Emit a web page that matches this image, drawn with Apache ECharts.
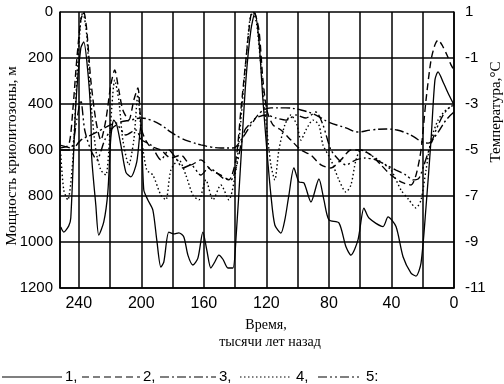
<!DOCTYPE html>
<html><head><meta charset="utf-8">
<script src="https://cdn.jsdelivr.net/npm/echarts@6/dist/echarts.min.js"></script>
<style>html,body{margin:0;padding:0;background:#fff}#c{width:504px;height:384px}</style>
</head><body><div id="c"></div>
<script>
// Time axis (thousand years ago), depth axis (m), temperature axis (°C)
const timeTicks = [0, 40, 80, 120, 160, 200, 240];
const depthTicks = [0, 200, 400, 600, 800, 1000, 1200];
const tempTicks = [1, -1, -3, -5, -7, -9, -11];
const seriesNames = ['1,', '2,', '3,', '4,', '5:'];

// Series 1 (solid)
const s1 = [[251.5,935],[249.6,957],[246.4,930],[245.1,896],[241.9,404],[238.7,157],[236.8,130],[234.2,260],[232.3,448],[231.7,635],[229.1,839],[227.2,970],[224,913],[221.4,783],[219.5,548],[217.6,470],[215.7,491],[213.1,578],[209.9,696],[206.7,717],[202.9,652],[200.3,491],[198.4,774],[195.8,817],[192.6,861],[190.1,991],[187.5,1109],[185.6,1087],[182.4,957],[179.2,965],[176,960],[172.8,978],[170.2,1057],[167,1100],[163.8,1070],[160.6,957],[158.1,1035],[155.5,1113],[153,1087],[150.4,1057],[147.8,1075],[144.6,1113],[141.4,1113],[139.5,991],[136.3,643],[133.1,296],[129.9,78],[127.4,4],[124.8,122],[122.2,383],[119.7,600],[117.1,796],[114.6,926],[110.7,961],[108.2,904],[105.6,796],[102.4,678],[99.2,739],[96,743],[91.5,826],[86.4,726],[83.2,817],[80,904],[73.6,917],[69.1,1021],[65.9,1057],[61.4,991],[57.6,853],[54.4,896],[45.4,933],[42.2,891],[37.1,933],[32.6,1064],[27.5,1135],[24.3,1148],[21.1,1092],[17.9,848],[14.7,557],[12.2,296],[10.2,260],[7,304],[3.2,361],[0,404]];

// Series 2 (dashed)
const s2 = [[251.5,591],[246.4,578],[243.8,426],[241.3,209],[238.7,35],[236.8,0],[234.9,78],[232.3,296],[229.1,470],[225.9,557],[222.7,470],[219.5,317],[217,252],[214.4,339],[211.8,426],[208,470],[204.8,383],[202.2,330],[199.7,513],[195.2,578],[187.5,600],[181.1,635],[174.7,622],[168.3,665],[161.9,643],[155.5,687],[149.1,709],[144,730],[139.5,643],[136.3,426],[133.1,209],[129.9,13],[128,0],[124.8,78],[122.2,296],[119.7,426],[115.8,491],[110.7,513],[104.3,557],[97.9,600],[91.5,622],[85.1,665],[78.7,678],[72.3,643],[65.9,600],[59.5,600],[53.1,622],[46.7,665],[40.3,709],[33.9,739],[27.5,752],[24.3,709],[21.1,600],[17.9,383],[14.7,209],[12.2,143],[10.2,122],[7.7,143],[4.5,187],[1.9,230],[0,252]];

// Series 3 (dash-dot)
const s3 = [[251.5,600],[245.1,600],[238.7,557],[232.3,535],[225.9,513],[219.5,491],[213.1,478],[206.7,470],[200.3,461],[193.9,470],[187.5,491],[181.1,522],[174.7,548],[168.3,565],[161.9,578],[155.5,587],[149.1,591],[141.4,591],[136.3,557],[129.9,491],[123.5,435],[117.1,417],[107.5,417],[97.9,426],[88.3,448],[80.4,478],[69.1,504],[61.4,522],[53.1,513],[43.5,509],[36.5,513],[30.7,526],[25.6,543],[20.5,565],[16.6,570],[11.5,535],[5.1,470],[0,435]];

// Series 4 (dotted)
const s4 = [[251.5,620],[249.6,774],[247,817],[243.8,643],[241.3,296],[238.7,35],[237.4,0],[234.9,100],[232.3,383],[229.1,600],[225.9,687],[222.7,709],[219.5,470],[217,296],[214.4,383],[211.8,557],[208,665],[204.8,557],[202.2,361],[199.7,557],[196.5,687],[192.6,709],[187.5,796],[184.3,817],[181.1,687],[176,643],[171.5,709],[167,796],[163.2,817],[158.7,730],[154.2,817],[149.1,752],[144,817],[139.5,687],[136.3,470],[133.1,209],[130.6,35],[128.6,0],[126.1,57],[122.2,339],[119.7,513],[117.1,665],[114.6,730],[112,600],[108.2,491],[104.3,448],[100.5,491],[97.9,557],[94.7,513],[90.2,470],[86.4,491],[83.8,578],[78.7,643],[73.6,730],[69.1,783],[65.9,752],[62.7,643],[59.5,600],[53.1,622],[46.7,652],[40.3,687],[33.9,774],[28.8,817],[24.3,852],[21.1,817],[17.9,687],[14.7,557],[10.2,470],[5.1,426],[0,404]];

// Series 5 (dash-dot-dot)
const s5 = [[251.5,580],[245.1,591],[241.3,470],[238.7,383],[236.2,513],[232.3,600],[228.5,643],[223.4,557],[219.5,513],[215.7,491],[209.9,535],[203.5,513],[199.7,557],[193.9,578],[187.5,643],[182.4,600],[177.9,635],[173.4,678],[168.3,665],[161.9,709],[156.8,678],[152.3,696],[147.8,722],[142.7,730],[138.9,665],[136.3,578],[133.8,513],[131.2,491],[126.7,461],[120.3,448],[113.9,461],[107.5,470],[101.1,448],[94.7,461],[88.3,435],[83.8,491],[78.7,600],[73.6,643],[69.1,665],[62.7,643],[57,635],[49.9,643],[43.5,665],[37.1,687],[30.7,709],[26.2,730],[22.4,722],[19.2,665],[16,600],[11.5,513],[7,448],[3.2,417],[0,404]];

const dashes = ['solid', [7, 4], [9, 3, 2, 3], [1.5, 2.5], [9, 3, 2, 3, 2, 3]];
const allData = [s1, s2, s3, s4, s5];

const chart = echarts.init(document.getElementById('c'), null, {renderer: 'canvas'});
const numFont = '"Liberation Sans", Arial, sans-serif';
const serifFont = '"Liberation Serif", "Times New Roman", serif';

const legendItems = [
  {x1: 2, x2: 62, tx: 65},
  {x1: 82, x2: 140, tx: 143},
  {x1: 160, x2: 216, tx: 219},
  {x1: 240, x2: 292, tx: 296},
  {x1: 318, x2: 362, tx: 366}
];
const graphics = [];
legendItems.forEach((it, i) => {
  graphics.push({type: 'line', shape: {x1: it.x1, y1: 377, x2: it.x2, y2: 377},
    style: {stroke: '#000', lineWidth: 1.2, lineDash: dashes[i] === 'solid' ? null : dashes[i]}});
  graphics.push({type: 'text', x: it.tx, y: 377,
    style: {text: seriesNames[i], fill: '#000', font: '15px ' + numFont, verticalAlign: 'middle', align: 'left'}});
});
graphics.push({type: 'text', x: 266, y: 325, style: {text: 'Время,', fill: '#000', font: '14px ' + serifFont, align: 'center', verticalAlign: 'middle'}});
graphics.push({type: 'text', x: 270, y: 342, style: {text: 'тысячи лет назад', fill: '#000', font: '14px ' + serifFont, align: 'center', verticalAlign: 'middle'}});
graphics.push({type: 'text', x: 496, y: 112, rotation: Math.PI / 2, style: {text: 'Температура,°С', fill: '#000', font: '15px ' + serifFont, align: 'center', verticalAlign: 'middle'}});
graphics.push({type: 'text', x: 12, y: 156, rotation: Math.PI / 2, style: {text: 'Мощность криолитозоны, м', fill: '#000', font: '15px ' + serifFont, align: 'center', verticalAlign: 'middle'}});

chart.setOption({
  animation: false,
  backgroundColor: '#fff',
  grid: {left: 60, right: 50, top: 12, bottom: 96, containLabel: false, outerBoundsMode: 'none'},
  xAxis: {
    type: 'value', min: 0, max: 252, interval: 20, inverse: true,
    axisLine: {show: true, onZero: false, lineStyle: {color: '#000', width: 1.5}},
    axisTick: {show: false},
    splitLine: {show: true, lineStyle: {color: '#000', width: 1.5}},
    axisLabel: {
      color: '#000', fontFamily: numFont, fontSize: 16, margin: 8,
      showMinLabel: true, showMaxLabel: false,
      formatter: v => (timeTicks.indexOf(v) >= 0 ? String(v) : '')
    }
  },
  yAxis: [
    {
      type: 'value', min: 0, max: 1200, interval: 200, inverse: true, position: 'left',
      axisLine: {show: true, onZero: false, lineStyle: {color: '#000', width: 1.5}},
      axisTick: {show: false},
      splitLine: {show: true, lineStyle: {color: '#000', width: 1.5}},
      axisLabel: {color: '#000', fontFamily: numFont, fontSize: 15, margin: 7,
        formatter: v => (depthTicks.indexOf(v) >= 0 ? String(v) : '')}
    },
    {
      type: 'value', min: 0, max: 12, interval: 2, position: 'right',
      axisLine: {show: true, onZero: false, lineStyle: {color: '#000', width: 1.5}},
      axisTick: {show: false},
      splitLine: {show: false},
      axisLabel: {color: '#000', fontFamily: numFont, fontSize: 15, margin: 11,
        formatter: v => String(tempTicks[(12 - v) / 2])}
    }
  ],
  series: allData.map((d, i) => ({
    type: 'line', name: seriesNames[i], data: d, yAxisIndex: 0,
    symbol: 'none', smooth: i === 2 ? 0.4 : 0.25,
    lineStyle: {color: '#000', width: i === 0 ? 1.3 : 1.4, type: dashes[i]},
    silent: true
  })),
  graphic: graphics
});
</script>
</body></html>
